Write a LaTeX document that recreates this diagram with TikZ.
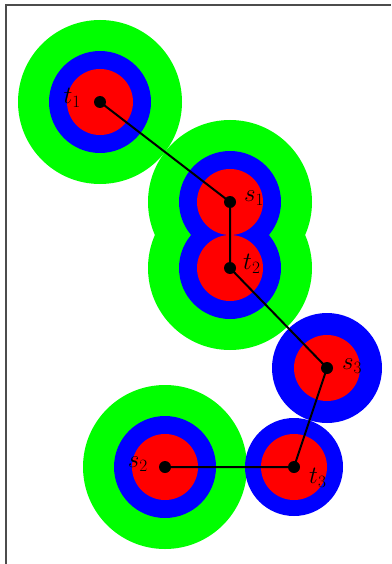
\documentclass[tikz,border=0pt]{standalone}
\usetikzlibrary{positioning}
\definecolor{zonegreen}{RGB}{0,255,0}
\definecolor{zoneblue}{RGB}{0,0,255}
\definecolor{zonered}{RGB}{255,0,0}
\tikzset{
    outer/.style={fill=zonegreen},
    middle/.style={fill=zoneblue},
    inner/.style={fill=zonered},
    dot/.style={
        circle,
        fill=black,
        inner sep=0pt,
        minimum size=12pt
    },
    link/.style={line width=2pt},
    frame/.style={draw=black!70, line width=2pt},
    lbl/.style={font=\fontsize{23}{26}\selectfont, inner sep=0pt}
}
\begin{document}
\begin{tikzpicture}[x=1pt,y=-1pt]
\useasboundingbox (0,0) rectangle (391,564);
\draw[frame] (6,564) |- (391,5.5);

% terminal positions
\coordinate (t1) at (100,102);
\coordinate (s1) at (230,202);
\coordinate (t2) at (230,268);
\coordinate (s3) at (327,368);
\coordinate (t3) at (294,467);
\coordinate (s2) at (165,467);

% zones, outer to inner
\foreach \p in {t1,s1,t2,s2}
    \fill[outer] (\p) circle[radius=82pt];
\foreach \p/\r in {t1/51,s1/51,t2/51,s2/51,s3/55,t3/49}
    \fill[middle] (\p) circle[radius=\r pt];
\foreach \p in {t1,s1,t2,s2,s3,t3}
    \fill[inner] (\p) circle[radius=33pt];

\draw[link] (t1) -- (s1) -- (t2) -- (s3) -- (t3) -- (s2);

\foreach \p in {t1,s1,t2,s2,s3,t3}
    \node[dot] (d\p) at (\p) {};

\node[lbl, left=19pt of t1, yshift=4pt] (lt1) {$t_1$};
\node[lbl, right=14pt of s1, yshift=4pt] (ls1) {$s_1$};
\node[lbl, right=13pt of t2, yshift=4pt] (lt2) {$t_2$};
\node[lbl, right=15pt of s3, yshift=2pt] (ls3) {$s_3$};
\node[lbl, left=17pt of s2, yshift=3pt] (ls2) {$s_2$};
\node[lbl, right=15pt of t3, yshift=-11pt] (lt3) {$t_3$};
\end{tikzpicture}
\end{document}
